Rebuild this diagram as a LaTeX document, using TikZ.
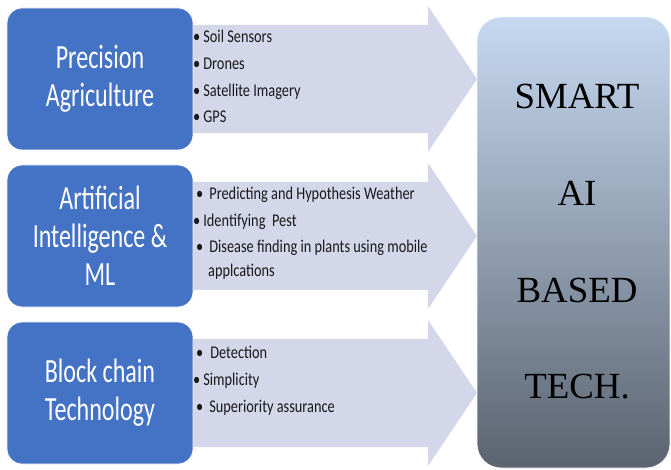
\documentclass[tikz,border=0pt]{standalone}
\usepackage{fontspec}
\setmainfont{Liberation Serif}
\newfontfamily\boxfont[FakeStretch=0.71]{Carlito}
\newfontfamily\itemfont[FakeStretch=0.8]{Carlito}
\definecolor{boxblue}{RGB}{68,114,196}
\definecolor{arrowfill}{RGB}{212,215,234}
\definecolor{techtop}{RGB}{198,217,241}
\definecolor{techbot}{RGB}{91,100,112}
\tikzset{
  arrowshape/.style={fill=arrowfill, draw=none},
  catbox/.style={rounded corners=15bp, fill=boxblue, draw=white, line width=0.8bp,
    minimum width=186bp, minimum height=142bp, align=center, text=white,
    font=\boxfont\fontsize{34}{38}\selectfont, inner sep=0pt},
  itemtxt/.style={anchor=base west, inner sep=0pt, font=\itemfont\fontsize{18}{20}\selectfont, text=black!90},
  techbox/.style={rounded corners=24bp, top color=techtop, bottom color=techbot, draw=white!80!techtop,
    line width=0.8bp, minimum width=193bp, minimum height=451bp, inner sep=0pt},
  techtxt/.style={align=center, font=\fontsize{37}{97}\selectfont, inner sep=0pt}
}
\begin{document}
\begin{tikzpicture}[x=1bp,y=-1bp]
\useasboundingbox (0,0) rectangle (671,470);
% arrows
\foreach \cy in {79,236,393}{
  \fill[arrowshape] (150,\cy-54) -- (428,\cy-54) -- (428,\cy-73) -- (477,\cy)
     -- (428,\cy+73) -- (428,\cy+54) -- (150,\cy+54) -- cycle;
}
% category boxes
\node[catbox] (pa) at (100,79) {Precision\\Agriculture};
\node[catbox] (ai) at (100,236) {Artificial\\Intelligence \&\\ML};
\node[catbox] (bc) at (100,393) {Block chain\\Technology};
% items
\node[itemtxt] (pa1) at (193,43) {•\hspace{3bp}Soil Sensors};
\node[itemtxt] (pa2) at (193,70) {•\hspace{3bp}Drones};
\node[itemtxt] (pa3) at (193,97) {•\hspace{3bp}Satellite Imagery};
\node[itemtxt] (pa4) at (193,123) {•\hspace{3bp}GPS};
\node[itemtxt] (ai1) at (196,200) {•\hspace{6bp}Predicting and Hypothesis Weather};
\node[itemtxt] (ai2) at (193,227) {•\hspace{3bp}Identifying\ \ Pest};
\node[itemtxt] (ai3) at (196,253) {•\hspace{6bp}Disease finding in plants using mobile};
\node[itemtxt] (ai4) at (208,277) {applcations};
\node[itemtxt] (bc1) at (196,358) {•\hspace{7bp}Detection};
\node[itemtxt] (bc2) at (193,385) {•\hspace{3bp}Simplicity};
\node[itemtxt] (bc3) at (196,412) {•\hspace{6bp}Superiority assurance};
% tech box
\node[techbox] (tech) at (573.5,242.5) {};
\node[techtxt] (techlabel) at (577,242) {SMART\\AI\\BASED\\TECH.};
\end{tikzpicture}
\end{document}
